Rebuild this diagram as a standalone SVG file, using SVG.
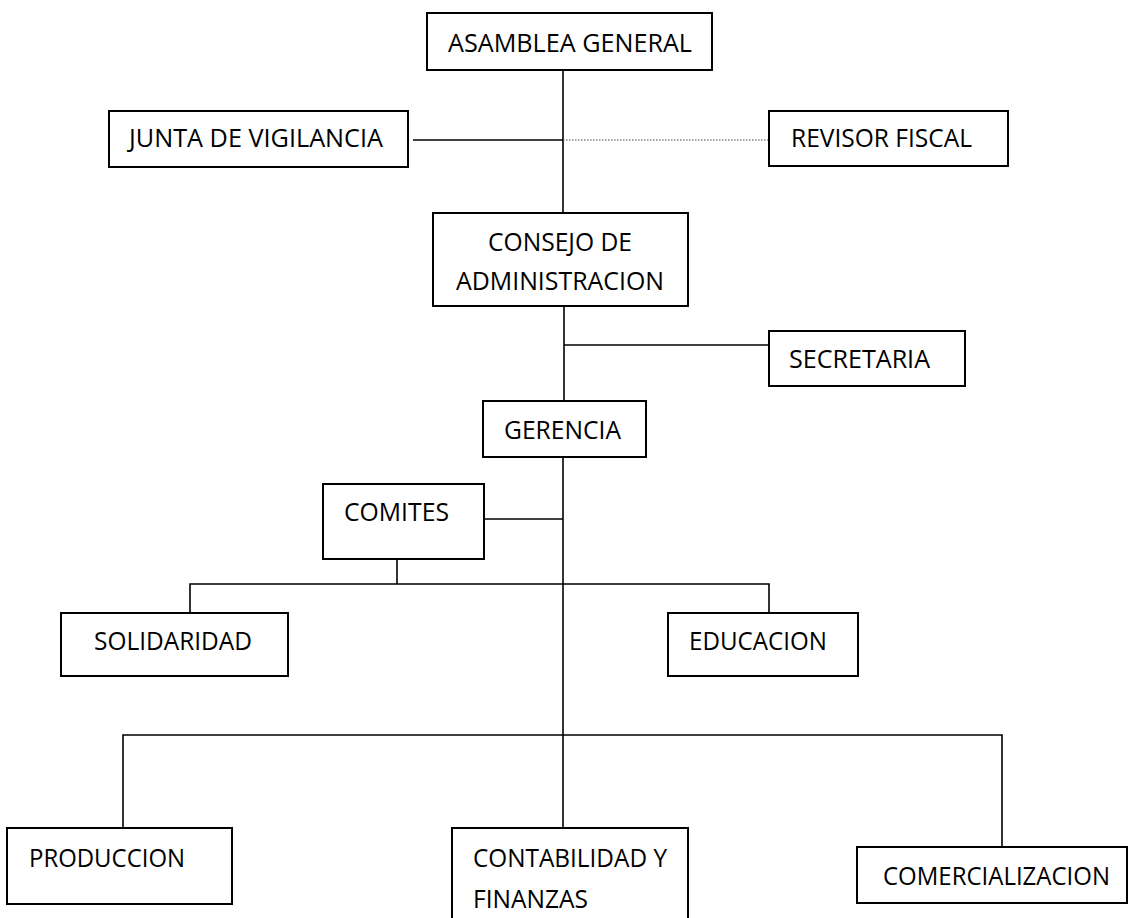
<svg xmlns="http://www.w3.org/2000/svg" width="1130" height="918" viewBox="0 0 1130 918">
<style>
.box{fill:#fff;stroke:#000;stroke-width:2}
.t{font-family:"Open Sans","Liberation Sans",sans-serif;font-size:25px;fill:#000}
.ln{stroke:#000;stroke-width:1.6;fill:none}
.dot{stroke:#444;stroke-width:1;stroke-dasharray:1.5 1.5;fill:none}
</style>
<rect width="1130" height="918" fill="#fff"/>
<g id="connectors">
<line class="ln" x1="563" y1="70" x2="563" y2="213"/>
<line class="ln" x1="413" y1="140" x2="563" y2="140"/>
<line class="dot" x1="563" y1="140" x2="768" y2="140"/>
<line class="ln" x1="564" y1="306" x2="564" y2="401"/>
<line class="ln" x1="564" y1="345" x2="769" y2="345"/>
<line class="ln" x1="563" y1="457" x2="563" y2="828"/>
<line class="ln" x1="484" y1="519" x2="563" y2="519"/>
<line class="ln" x1="397" y1="559" x2="397" y2="584"/>
<polyline class="ln" points="190,613 190,584 769,584 769,613"/>
<polyline class="ln" points="123,828 123,735 1002,735 1002,847"/>
</g>
<g id="asamblea"><rect class="box" x="427" y="13" width="285" height="57"/><text class="t" x="448" y="52" textLength="244" lengthAdjust="spacingAndGlyphs">ASAMBLEA GENERAL</text></g>
<g id="junta"><rect class="box" x="109" y="111" width="299" height="56"/><text class="t" x="129" y="147" textLength="254" lengthAdjust="spacingAndGlyphs">JUNTA DE VIGILANCIA</text></g>
<g id="revisor"><rect class="box" x="769" y="111" width="239" height="55"/><text class="t" x="791" y="147" textLength="181" lengthAdjust="spacingAndGlyphs">REVISOR FISCAL</text></g>
<g id="consejo"><rect class="box" x="433" y="213" width="255" height="93"/><text class="t" x="488" y="251" textLength="144" lengthAdjust="spacingAndGlyphs">CONSEJO DE</text><text class="t" x="456" y="290" textLength="208" lengthAdjust="spacingAndGlyphs">ADMINISTRACION</text></g>
<g id="secretaria"><rect class="box" x="769" y="331" width="196" height="55"/><text class="t" x="789" y="368" textLength="141" lengthAdjust="spacingAndGlyphs">SECRETARIA</text></g>
<g id="gerencia"><rect class="box" x="483" y="401" width="163" height="56"/><text class="t" x="504" y="439" textLength="117" lengthAdjust="spacingAndGlyphs">GERENCIA</text></g>
<g id="comites"><rect class="box" x="323" y="484" width="161" height="75"/><text class="t" x="344" y="521" textLength="105" lengthAdjust="spacingAndGlyphs">COMITES</text></g>
<g id="solidaridad"><rect class="box" x="61" y="613" width="227" height="63"/><text class="t" x="94" y="650" textLength="158" lengthAdjust="spacingAndGlyphs">SOLIDARIDAD</text></g>
<g id="educacion"><rect class="box" x="668" y="613" width="190" height="63"/><text class="t" x="689" y="650" textLength="138" lengthAdjust="spacingAndGlyphs">EDUCACION</text></g>
<g id="produccion"><rect class="box" x="7" y="828" width="225" height="76"/><text class="t" x="29" y="867" textLength="156" lengthAdjust="spacingAndGlyphs">PRODUCCION</text></g>
<g id="contabilidad"><rect class="box" x="452" y="828" width="236" height="110"/><text class="t" x="473" y="867" textLength="194" lengthAdjust="spacingAndGlyphs">CONTABILIDAD Y</text><text class="t" x="473" y="908" textLength="115" lengthAdjust="spacingAndGlyphs">FINANZAS</text></g>
<g id="comercializacion"><rect class="box" x="857" y="847" width="270" height="56"/><text class="t" x="883" y="885" textLength="227" lengthAdjust="spacingAndGlyphs">COMERCIALIZACION</text></g>
</svg>
